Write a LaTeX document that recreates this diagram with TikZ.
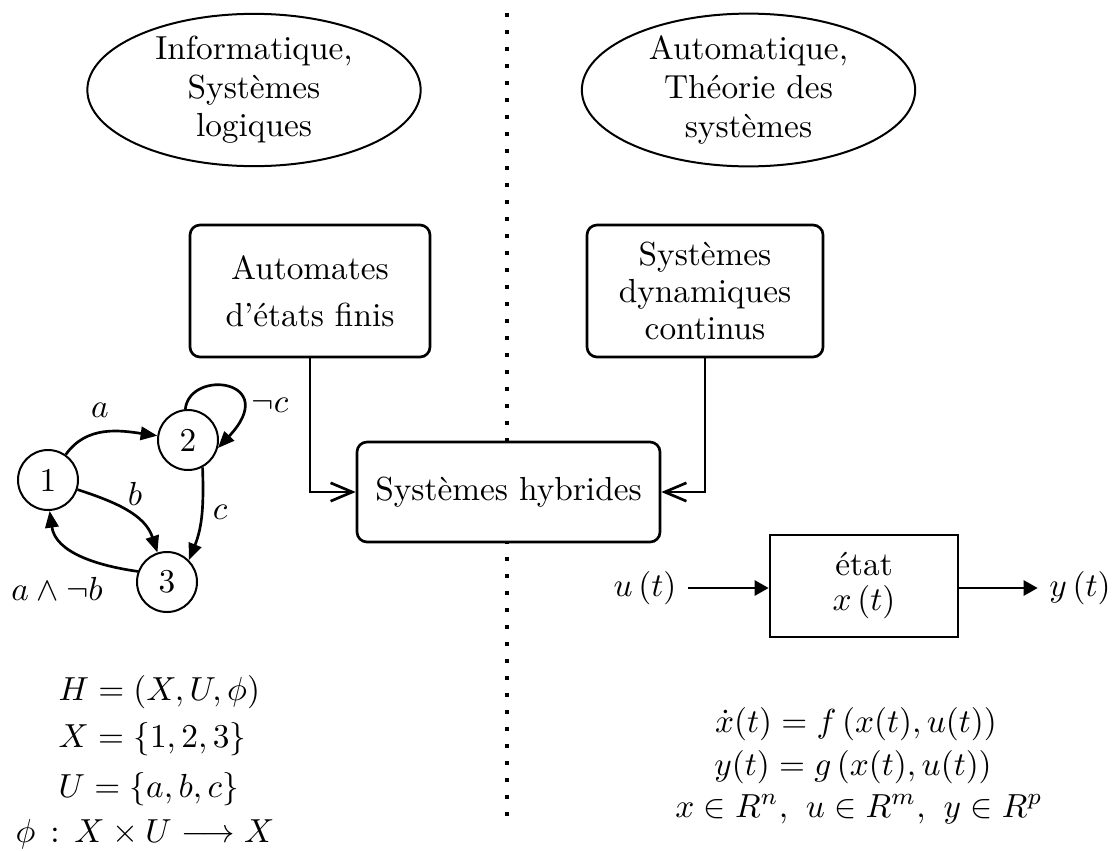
\documentclass[tikz,border=0pt]{standalone}
\usepackage{amsmath,amssymb}
\usetikzlibrary{shapes.geometric,arrows.meta}

\begin{document}
\begin{tikzpicture}[x=0.3pt,y=0.3pt,
  field/.style={ellipse,draw,line width=0.6pt,inner sep=0pt,align=center,
    font=\fontsize{10}{11.6}\selectfont,minimum width=100pt,minimum height=45.3pt},
  rbox/.style={draw,line width=0.8pt,rounded corners=3pt,align=center,fill=white},
  autstate/.style={circle,draw,line width=0.6pt,minimum size=18pt,inner sep=0pt},
  trans/.style={line width=0.8pt,-{Triangle[length=5pt,width=4pt]}},
  feed/.style={line width=0.8pt,-{Straight Barb[length=6.5pt,width=5.5pt]}},
  sig/.style={line width=0.8pt,-{Triangle[length=4.2pt,width=4.5pt]}},
  eq/.style={inner sep=0pt},
]
\useasboundingbox (0,0) rectangle (1115,-850);

% separation between the two disciplines
\draw[line width=1pt,dash pattern=on 1.2pt off 3.9pt] (507,-13) -- (507,-825);

% the two disciplines
\node[field] (info) at (254,-90) {Informatique,\\Systèmes\\logiques};
\node[field] (autom) at (748.5,-90) {Automatique,\\Théorie des\\systèmes};

% model classes
\node[rbox,minimum width=72pt,minimum height=39.6pt,font=\fontsize{10}{14}\selectfont]
  (afd) at (310,-291) {Automates\\d'états finis};
\node[rbox,minimum width=70.8pt,minimum height=39.6pt,font=\fontsize{10}{11}\selectfont]
  (sdc) at (705,-291) {Systèmes\\dynamiques\\continus};
\node[rbox,minimum width=90.9pt,minimum height=30pt] (hyb) at (508.5,-492) {Systèmes hybrides};

\draw[feed] (afd.south) |- (hyb.west);
\draw[feed] (sdc.south) |- (hyb.east);

% finite automaton
\node[autstate] (q1) at (48,-480) {1};
\node[autstate] (q2) at (188,-440) {2};
\node[autstate] (q3) at (167,-582) {3};

\draw[trans] (q1) to[out=55,in=172] (q2);
\draw[trans] (q2.95) .. controls (190,-368) and (282,-380) .. (q2.-15);
\draw[trans] (q1) to[out=-18,in=108] (q3);
\draw[trans] (q2.-62) to[out=-88,in=68] (q3.45);
\draw[trans] (q3.160) to[out=172,in=-82] (q1.-87);

\node (la) at (100,-410) {$a$};
\node (lnc) at (270,-405) {$\neg c$};
\node (lb) at (135,-494) {$b$};
\node (lc) at (220,-512) {$c$};
\node (lab) at (57,-589) {$a\wedge\neg b$};

% formal definition of the automaton
\node[eq,anchor=base west] (hdef) at (58,-700) {$H=(X,U,\phi)$};
\node[eq,anchor=base west] (xdef) at (58,-747) {$X=\{1,2,3\}$};
\node[eq,anchor=base west] (udef) at (58,-797) {$U=\{a,b,c\}$};
\node[eq,anchor=base west] (phidef) at (15,-842) {$\phi\,:\,X\times U\longrightarrow X$};

% continuous system block
\node[draw,line width=0.8pt,minimum width=56.4pt,minimum height=30.6pt,align=center,
  font=\fontsize{10}{10.5}\selectfont] (etat) at (864,-586) {état\\$x\left(t\right)$};
\node (u) at (645,-588) {$u\left(t\right)$};
\node (y) at (1080,-588) {$y\left(t\right)$};
\draw[sig] (u) -- (u -| etat.west);
\draw[sig] (etat.east |- y) -- (y);

% state-space equations
\node[eq,anchor=base] (ode) at (856,-732) {$\dot x(t)=f\left(x(t),u(t)\right)$};
\node[eq,anchor=base] (out) at (853,-775) {$y(t)=g\left(x(t),u(t)\right)$};
\node[eq,anchor=base] (dims) at (859,-817)
  {$x\in R^n$,\hspace{2pt} $u\in R^m$,\hspace{2pt} $y\in R^p$};
\end{tikzpicture}
\end{document}
